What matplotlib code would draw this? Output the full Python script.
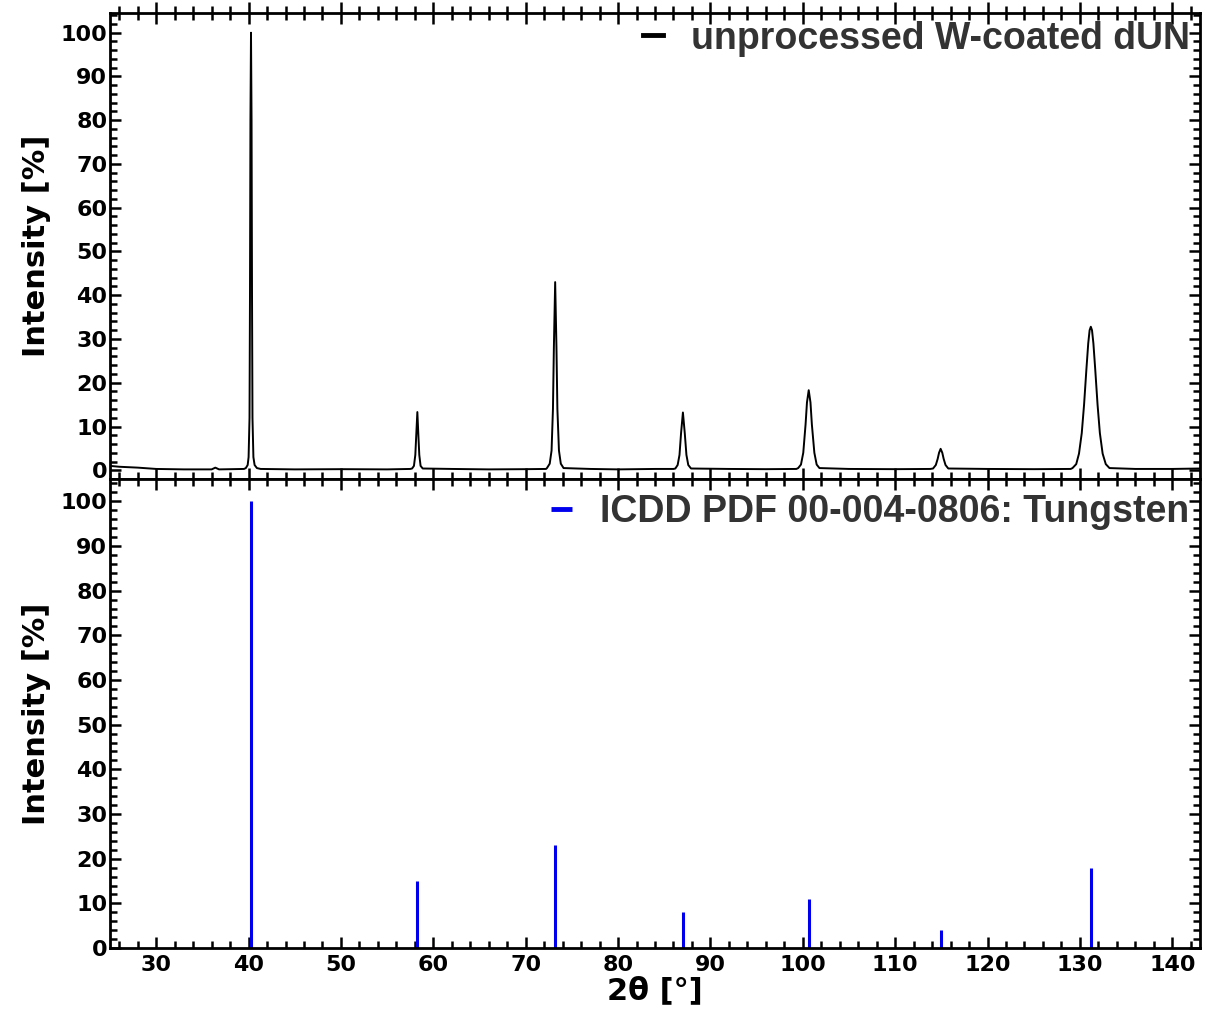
import matplotlib
matplotlib.use('Agg')
import matplotlib.pyplot as plt
from matplotlib.ticker import MultipleLocator

patX = [25.0, 26.0, 27.0, 28.0, 30.0, 33.0, 36.0, 36.4, 36.8, 39.5,
        39.7, 39.9, 40.0, 40.1, 40.15, 40.2, 40.26, 40.32, 40.37, 40.42, 40.52, 40.65, 40.9, 41.3,
        45.0, 50.0, 55.0, 57.5,
        57.7, 57.9, 58.05, 58.15, 58.27, 58.38, 58.48, 58.62, 58.85,
        62.0, 66.0, 70.0, 72.2,
        72.3, 72.6, 72.8, 72.95, 73.05, 73.19, 73.33, 73.43, 73.6, 73.8, 74.1,
        77.0, 80.0, 84.0, 86.0,
        86.2, 86.45, 86.65, 86.82, 87.02, 87.22, 87.4, 87.6, 87.9,
        92.0, 96.0, 99.3,
        99.5, 99.8, 100.05, 100.3, 100.45, 100.64, 100.83, 100.98, 101.25, 101.5, 101.8,
        105.0, 110.0, 113.8,
        114.1, 114.4, 114.6, 114.75, 114.92, 115.1, 115.25, 115.45, 115.75,
        120.0, 125.0, 129.0,
        129.2, 129.6, 129.9, 130.2, 130.45, 130.7, 130.9, 131.05, 131.18, 131.31, 131.46,
        131.66, 131.91, 132.16, 132.46, 132.8, 133.2,
        136.0, 140.0, 143.0]
patY = [1.0, 0.8, 0.7, 0.6, 0.3, 0.2, 0.2, 0.6, 0.2, 0.3,
        0.5, 1.2, 3.0, 12.0, 40.0, 80.0, 100.0, 80.0, 40.0, 12.0, 3.0, 1.2, 0.5, 0.3,
        0.2, 0.25, 0.2, 0.3,
        0.4, 1.0, 3.5, 8.0, 13.3, 8.0, 3.5, 1.0, 0.4,
        0.3, 0.2, 0.25, 0.3,
        0.5, 1.5, 4.5, 14.0, 28.0, 43.0, 28.0, 14.0, 4.5, 1.5, 0.5,
        0.3, 0.2, 0.3, 0.3,
        0.4, 1.2, 3.5, 8.5, 13.2, 8.5, 3.5, 1.2, 0.4,
        0.3, 0.25, 0.3,
        0.5, 1.3, 4.0, 10.5, 15.5, 18.3, 15.5, 10.5, 4.0, 1.3, 0.5,
        0.3, 0.25, 0.3,
        0.4, 1.2, 2.6, 4.0, 4.9, 4.0, 2.6, 1.2, 0.4,
        0.3, 0.25, 0.3,
        0.5, 1.4, 3.8, 8.5, 15.0, 23.0, 29.0, 32.0, 32.8, 32.0, 29.0,
        23.0, 15.0, 8.5, 3.8, 1.4, 0.5,
        0.3, 0.3, 0.4]

# ICDD PDF 00-004-0806 reference lines
refPos = [40.26, 58.27, 73.19, 87.02, 100.64, 114.92, 131.18]
refInt = [100, 15, 23, 8, 11, 4, 18]

labelTop = 'unprocessed W-coated dUN'
labelBot = 'ICDD PDF 00-004-0806: Tungsten'

tickFont = {'family': 'DejaVu Sans', 'weight': 'bold', 'size': 16}
legFont = {'family': ['Liberation Sans Narrow', 'Liberation Sans'], 'weight': 'bold', 'size': 27}

fig = plt.figure(figsize=(12.2, 10.17), dpi=100)
axTop = fig.add_axes([0.0902, 0.529, 0.8934, 0.4582])
axBot = fig.add_axes([0.0902, 0.0678, 0.8934, 0.4612])

axTop.plot(patX, patY, color='black', linewidth=1.4, label=labelTop)
axBot.vlines(refPos, 0, refInt, color='#0000ee', linewidth=2.2, label=labelBot)

axTop.set_ylim(-2, 104.5)
axBot.set_ylim(0, 105)

for ax in (axTop, axBot):
    ax.set_xlim(25, 143)
    ax.xaxis.set_major_locator(MultipleLocator(10))
    ax.xaxis.set_minor_locator(MultipleLocator(2))
    ax.yaxis.set_major_locator(MultipleLocator(10))
    ax.yaxis.set_minor_locator(MultipleLocator(2))
    for s in ax.spines.values():
        s.set_linewidth(2)
    ax.tick_params(axis='y', which='both', direction='in', left=True, right=True, width=1.8)
    ax.tick_params(axis='y', which='major', length=8)
    ax.tick_params(axis='y', which='minor', length=5)
    ax.tick_params(axis='x', which='both', top=True, bottom=True, width=1.8)
    ax.tick_params(axis='x', which='major', length=8)
    ax.tick_params(axis='x', which='minor', length=5)
    for lab in ax.get_yticklabels():
        lab.set_fontproperties(tickFont)
    ax.tick_params(axis='y', pad=2)
    ax.set_ylabel('Intensity [%]', fontsize=22, fontweight='bold', labelpad=7)

axTop.tick_params(axis='x', which='major', direction='inout', length=16)
axTop.tick_params(axis='x', which='minor', direction='inout', length=10)
axTop.tick_params(axis='x', labelbottom=False)
axBot.tick_params(axis='x', which='both', direction='in')
for lab in axBot.get_xticklabels():
    lab.set_fontproperties(tickFont)
axBot.tick_params(axis='x', pad=5)
axBot.set_xlabel('2θ [°]', fontsize=22, fontweight='bold', labelpad=1)

# legends sit a little higher / further right than the default spot
anchors = {axTop: (1.010, 1.028), axBot: (1.009, 1.012)}
for ax in (axTop, axBot):
    leg = ax.legend(loc='upper right', bbox_to_anchor=anchors[ax], frameon=False, prop=legFont,
                    handlelength=0.55, handletextpad=0.75, borderaxespad=0.15, labelcolor='#333333')
    for h in leg.legend_handles:
        h.set_linewidth(3.5)

fig.savefig('out.png', dpi=100)
